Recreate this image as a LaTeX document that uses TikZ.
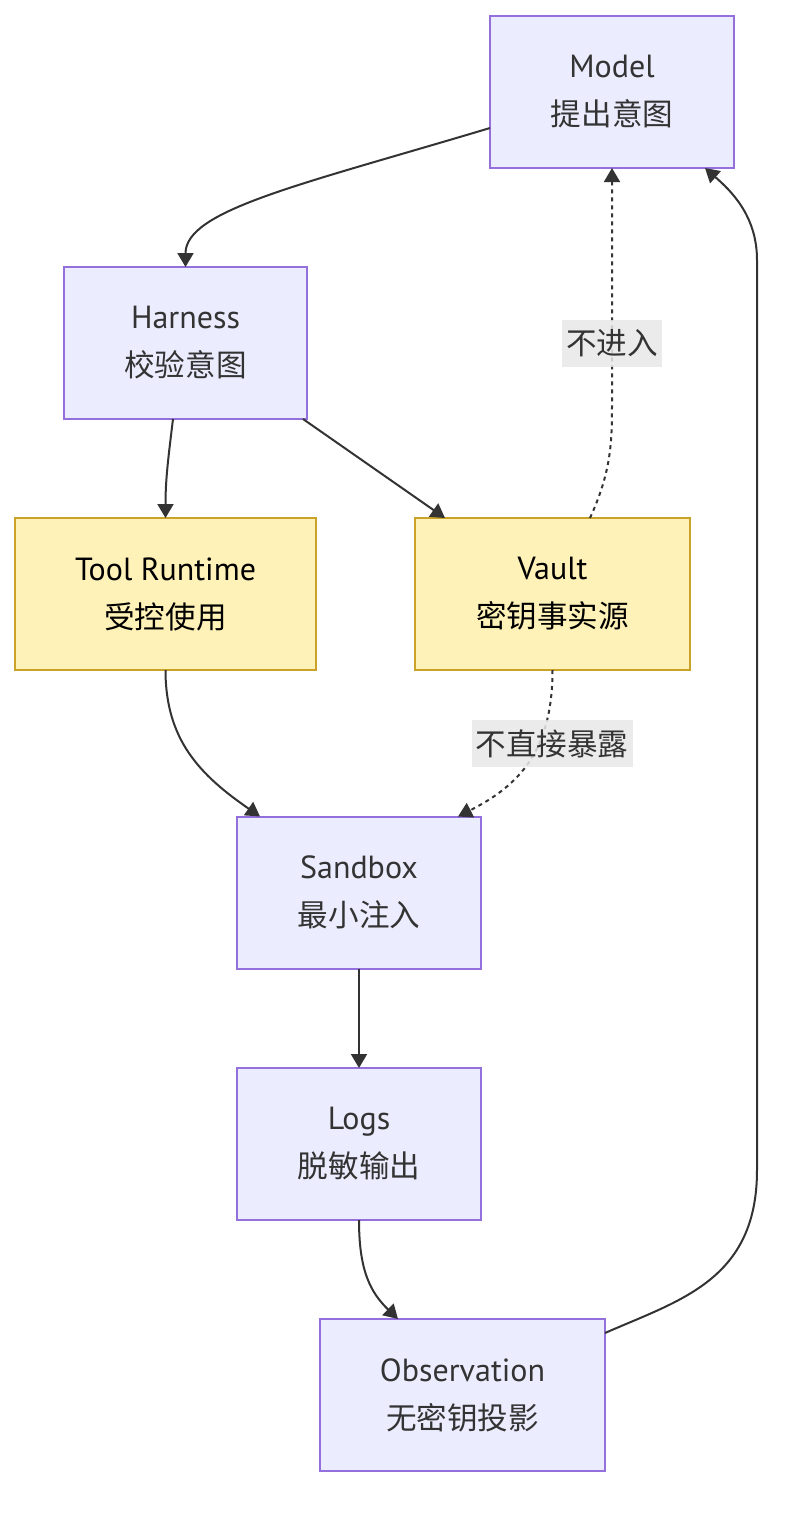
\documentclass[tikz,border=0pt]{standalone}
\usepackage{fontspec}
\setmainfont{PT Sans}
\newfontfamily\cjk{Noto Sans CJK SC}
\usetikzlibrary{arrows.meta,calc}
\definecolor{pfill}{HTML}{ECECFF}
\definecolor{pdraw}{HTML}{9370DB}
\definecolor{yfill}{HTML}{FFF2B8}
\definecolor{ydraw}{HTML}{C9A227}
\definecolor{ink}{HTML}{333333}
\definecolor{lblbg}{HTML}{E8E8E8}
\newcommand{\zh}[1]{{\cjk\fontsize{15.3}{24}\selectfont #1}}
\tikzset{
  box/.style={rectangle, draw=pdraw, fill=pfill, line width=1pt, text=ink,
    minimum height=76pt, inner sep=0pt, outer sep=0pt, align=center,
    font=\fontsize{16}{24}\selectfont},
  ybox/.style={box, draw=ydraw, fill=yfill, text=black},
  edge/.style={draw=ink, line width=1pt, -{Triangle[length=7pt,width=8pt]}},
  dotedge/.style={edge, dash pattern=on 2pt off 2pt},
  lbl/.style={fill=lblbg, fill opacity=0.85, text opacity=1, text=ink,
    inner xsep=2pt, inner ysep=0pt, minimum height=23.5pt,
    font=\fontsize{15.3}{18}\selectfont\cjk}
}
\begin{document}
\begin{tikzpicture}[x=0.5pt,y=-0.5pt]
\useasboundingbox (0,0) rectangle (790,1516);
\node[box, minimum width=122pt] (model) at (612,92) {Model\\\zh{提出意图}};
\node[box, minimum width=121.5pt] (harness) at (185.5,343) {Harness\\\zh{校验意图}};
\node[ybox, minimum width=150.5pt] (tool) at (165.5,594) {Tool Runtime\\\zh{受控使用}};
\node[ybox, minimum width=137.5pt] (vault) at (552.5,594) {Vault\\\zh{密钥事实源}};
\node[box, minimum width=122pt] (sandbox) at (359,892.5) {Sandbox\\\zh{最小注入}};
\node[box, minimum width=122pt] (logs) at (359,1144) {Logs\\\zh{脱敏输出}};
\node[box, minimum width=142.5pt] (obs) at (462.5,1395) {Observation\\\zh{无密钥投影}};

% Model -> Harness
\draw[edge] ([yshift=-18pt]model.west) .. controls (300,185) and (185.5,210) .. (harness.north);
% Harness -> Tool Runtime
\draw[edge] ([xshift=-6.25pt]harness.south) .. controls (168,460) and (165.5,480) .. (tool.north);
% Harness -> Vault
\draw[edge] ([xshift=-2pt]harness.south east) -- ([xshift=15pt]vault.north west);
% Vault -> Model (dotted)
\draw[dotedge] ([xshift=18.75pt]vault.north) .. controls (612,470) and (612,440) .. (612,400) -- (model.south);
\node[lbl] (l1) at (612,343) {不进入};
% Tool Runtime -> Sandbox
\draw[edge] (tool.south) .. controls (165.5,740) and (200,775) .. ([xshift=11.5pt]sandbox.north west);
% Vault -> Sandbox (dotted)
\draw[dotedge] (vault.south) .. controls (552.5,750) and (520,785) .. ([xshift=-11.5pt]sandbox.north east);
\node[lbl] (l2) at (552,743.5) {不直接暴露};
% Sandbox -> Logs
\draw[edge] (sandbox.south) -- (logs.north);
% Logs -> Observation
\draw[edge] (logs.south) .. controls (359,1270) and (370,1292) .. ([xshift=39pt]obs.north west);
% Observation -> Model
\draw[edge] ([yshift=-7pt]obs.north east) .. controls (680,1300) and (757,1280) .. (757,1170) -- (757,260) .. controls (757,215) and (730,190) .. ([xshift=-14.5pt]model.south east);
\end{tikzpicture}
\end{document}
